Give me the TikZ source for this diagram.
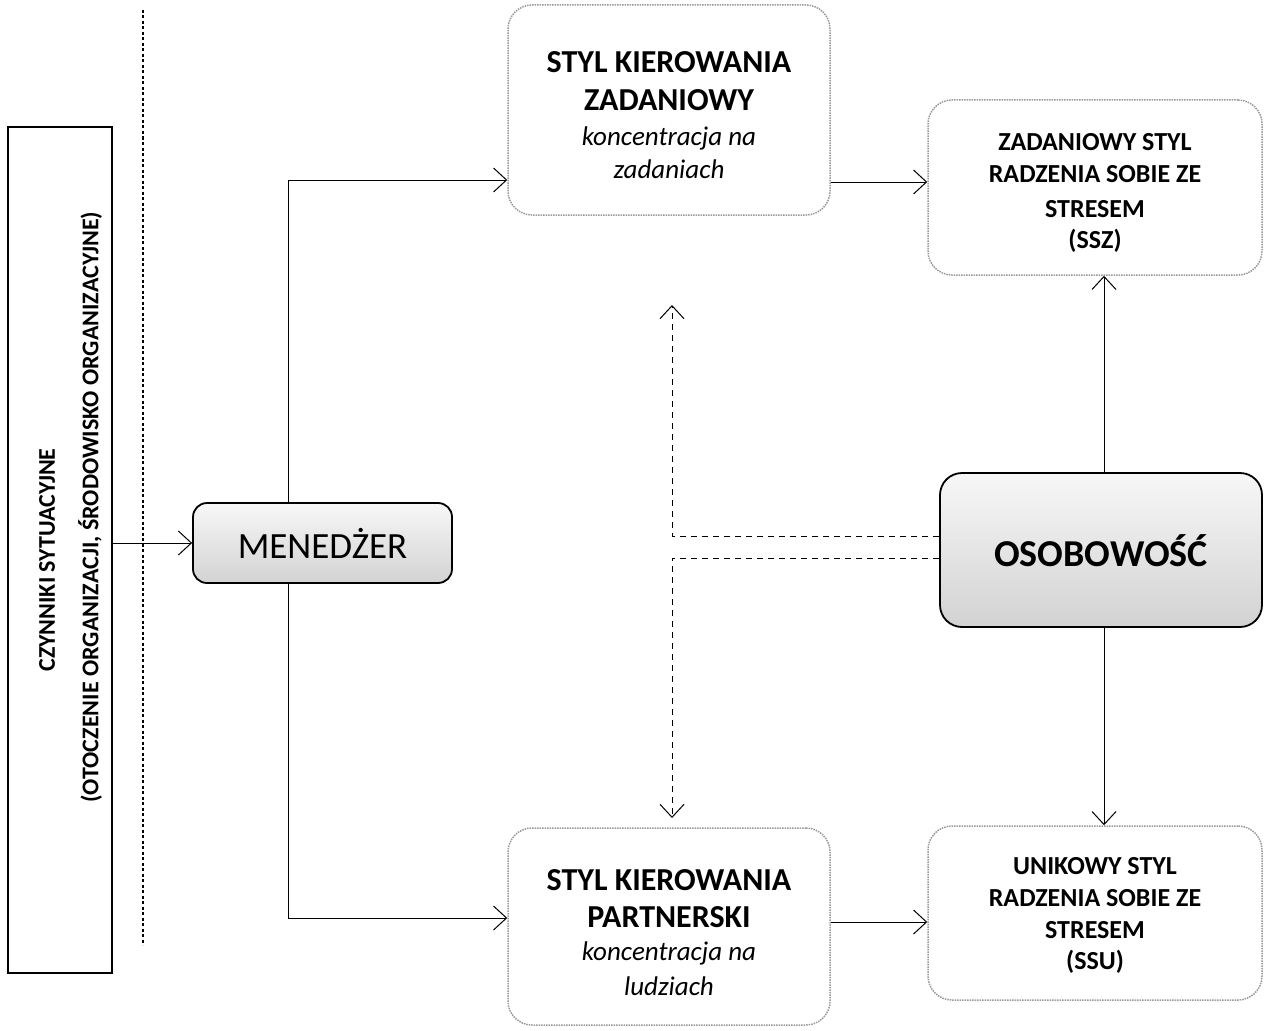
\documentclass[tikz,border=0pt]{standalone}
\usepackage{fontspec}
\setmainfont{Carlito}
\usetikzlibrary{arrows.meta}
\begin{document}
\begin{tikzpicture}[x=1pt,y=-1pt,
  box/.style={draw=gray!80, line width=1.5pt, rounded corners=24pt, dash pattern=on 1.5pt off 1pt, align=center, inner sep=0pt},
  shadebox/.style={draw=black, line width=1.8pt, rounded corners=14pt, top color=gray!6, bottom color=gray!35, inner sep=0pt},
  arr/.style={-{Straight Barb[length=13pt,width=24pt,line width=1pt]}, line width=0.9pt},
  darr/.style={arr, dashed, dash pattern=on 6pt off 5pt},
  btxt/.style={font=\fontsize{32}{36}\selectfont\bfseries},
  itxt/.style={font=\fontsize{27}{30}\selectfont\itshape},
  stxt/.style={font=\fontsize{26}{30}\selectfont\bfseries}
]
\useasboundingbox (0,0) rectangle (1268,1030);
\fill[white] (0,0) rectangle (1268,1030);

% left box
\node[draw, line width=1.4pt, minimum width=104pt, minimum height=846pt, inner sep=0pt] (cz) at (60,550) {};
\node[rotate=90, font=\fontsize{24}{28}\selectfont\bfseries] (cz1) at (47,560) {CZYNNIKI SYTUACYJNE};
\node[rotate=90, font=\fontsize{24}{28}\selectfont\bfseries] (cz2) at (90,507) {(OTOCZENIE ORGANIZACJI, ŚRODOWISKO ORGANIZACYJNE)};

% dashed separator
\coordinate (s1) at (143,10);
\coordinate (s2) at (143,945);
\draw[line width=2.2pt, dash pattern=on 3pt off 2.5pt] (s1) -- (s2);

% manager
\node[shadebox, minimum width=259pt, minimum height=80pt] (men) at (322.5,543) {};
\node[font=\fontsize{37}{40}\selectfont] at (men) {MENEDŻER};

% styles
\node[box, minimum width=322pt, minimum height=210pt] (sz) at (669,110) {};
\node[btxt] at (669,62) {STYL KIEROWANIA};
\node[btxt] at (669,100) {ZADANIOWY};
\node[itxt] at (669,138) {koncentracja na};
\node[itxt] at (669,169) {zadaniach};

\node[box, minimum width=322pt, minimum height=197pt] (sp) at (669,926.5) {};
\node[btxt] at (669,880) {STYL KIEROWANIA};
\node[btxt] at (669,917) {PARTNERSKI};
\node[itxt] at (669,953) {koncentracja na};
\node[itxt] at (669,986) {ludziach};

% stress styles
\node[box, minimum width=334pt, minimum height=175pt] (ssz) at (1095,187.5) {};
\node[stxt] at (1095,142) {ZADANIOWY STYL};
\node[stxt] at (1095,174) {RADZENIA SOBIE ZE};
\node[stxt] at (1095,209) {STRESEM};
\node[stxt] at (1095,241) {(SSZ)};

\node[box, minimum width=334pt, minimum height=174pt] (ssu) at (1095,913) {};
\node[stxt] at (1095,866) {UNIKOWY STYL};
\node[stxt] at (1095,898) {RADZENIA SOBIE ZE};
\node[stxt] at (1095,930) {STRESEM};
\node[stxt] at (1095,962) {(SSU)};

% personality
\node[shadebox, rounded corners=22pt, minimum width=322pt, minimum height=154pt] (os) at (1101,550) {};
\node[font=\fontsize{38}{42}\selectfont\bfseries] at (1101,551) {OSOBOWOŚĆ};

% connectors
\draw[arr] (cz.east |- men.west) -- (men.west);
\coordinate (mtop) at (288,180);
\coordinate (mbot) at (288,918);
\draw[line width=0.9pt] (men.north -| mtop) -- (mtop);
\draw[line width=0.9pt] (men.south -| mbot) -- (mbot);
\draw[arr] (mtop) -- (sz.west |- mtop);
\draw[arr] (mbot) -- (sp.west |- mbot);
\draw[arr] (sz.east |- 0,182) -- (ssz.west |- 0,182);
\draw[arr] (sp.east |- 0,922) -- (ssu.west |- 0,922);
\draw[arr] (os.north -| 1104,0) -- (ssz.south -| 1104,0);
\draw[arr] (os.south -| 1104,0) -- (ssu.north -| 1104,0);

\coordinate (d1) at (672,536);
\coordinate (d2) at (672,558);
\draw[darr] (os.west |- d1) -- (d1) -- (672,305);
\draw[darr] (os.west |- d2) -- (d2) -- (672,818);
\end{tikzpicture}
\end{document}
